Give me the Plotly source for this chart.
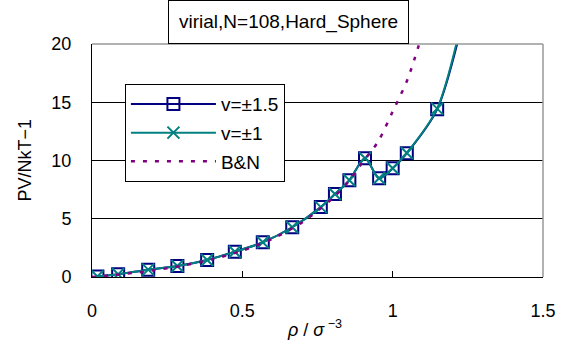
import plotly.graph_objects as go

# data
rho_15 = [0.018, 0.087, 0.187, 0.284, 0.383, 0.475, 0.568, 0.666, 0.761, 0.808,
          0.856, 0.908, 0.955, 1.0, 1.047, 1.148, 1.25]
z_15 = [0.05, 0.23, 0.63, 0.94, 1.46, 2.17, 2.98, 4.27, 6.0, 7.12,
        8.3, 10.19, 8.47, 9.33, 10.62, 14.39, 23.8]
rho_1 = [0.018, 0.087, 0.187, 0.284, 0.383, 0.475, 0.568, 0.666, 0.761, 0.808,
         0.856, 0.908, 0.955, 1.0, 1.047, 1.148, 1.25]
z_1 = [0.05, 0.23, 0.63, 0.94, 1.46, 2.17, 2.98, 4.27, 6.0, 7.12,
       8.3, 10.19, 8.47, 9.33, 10.65, 14.45, 24.3]
rho_bn = [0.0, 0.1, 0.2, 0.3, 0.4, 0.5, 0.6, 0.7, 0.8, 0.85, 0.9, 0.95, 1.0, 1.05, 1.1]
z_bn = [0.0, 0.24, 0.55, 0.97, 1.52, 2.26, 3.28, 4.71, 6.75, 8.1, 9.85, 11.56, 14.2, 17.0, 21.0]

x_ticks = [0, 0.5, 1, 1.5]
x_ticklabels = ["0", "0.5", "1", "1.5"]
y_ticks = [0, 5, 10, 15, 20]
y_ticklabels = ["0", "5", "10", "15", "20"]

FONT = "Liberation Sans, Arial, sans-serif"

fig = go.Figure()
fig.add_trace(go.Scatter(
    x=rho_15, y=z_15, name="v=±1.5", mode="lines+markers",
    line=dict(color="#000080", width=2, shape="spline", smoothing=0.8),
    marker=dict(symbol="square-open", size=12, color="#000080", line=dict(width=2)),
    legendgroup="a",
))
fig.add_trace(go.Scatter(
    x=rho_1, y=z_1, name="v=±1", mode="lines+markers",
    line=dict(color="#008080", width=2, shape="spline", smoothing=0.8),
    marker=dict(symbol="x-thin-open", size=12, color="#008080", line=dict(width=2, color="#008080")),
    legendgroup="b",
))
fig.add_trace(go.Scatter(
    x=rho_bn, y=z_bn, name="B&N", mode="lines",
    line=dict(color="#800080", width=2.5, dash="4px,8px", shape="spline", smoothing=0.8),
    legendgroup="c",
))

fig.update_layout(
    width=569, height=349,
    margin=dict(l=92, r=26, t=44, b=72, autoexpand=False),
    paper_bgcolor="white", plot_bgcolor="white",
    font=dict(family=FONT, size=18, color="black"),
    showlegend=True,
    legend=dict(
        x=0.073, y=0.828, xanchor="left", yanchor="top",
        bgcolor="white", bordercolor="black", borderwidth=1,
        font=dict(size=19, family=FONT), traceorder="grouped", tracegroupgap=1,
        itemwidth=85,
    ),
    xaxis=dict(
        range=[0, 1.5], tickvals=x_ticks, ticktext=x_ticklabels, automargin=False,
        showgrid=False, zeroline=False, showline=True, linecolor="black", linewidth=1,
        ticks="inside", ticklen=6, tickcolor="black", ticklabelstandoff=17,
        tickfont=dict(size=18),
    ),
    yaxis=dict(
        range=[0, 20], tickvals=y_ticks, ticktext=y_ticklabels, automargin=False,
        showgrid=True, gridcolor="black", gridwidth=1, zeroline=False,
        showline=True, linecolor="black", linewidth=1,
        ticks="", ticklabelstandoff=16, tickfont=dict(size=18),
    ),
    shapes=[dict(type="line", xref="paper", yref="paper", x0=0, x1=1, y0=1, y1=1,
                 line=dict(color="#999999", width=1.5), layer="above"),
            dict(type="line", xref="paper", yref="paper", x0=1, x1=1, y0=0, y1=1,
                 line=dict(color="#999999", width=1.5), layer="above")],
    annotations=[
        dict(text="virial,N=108,Hard_Sphere", xref="paper", yref="paper",
             x=(288 - 92) / 451, y=1 + (44 - 22) / 233, xanchor="center", yanchor="middle",
             showarrow=False, font=dict(size=19, family=FONT), bordercolor="black",
             borderwidth=1, borderpad=10, bgcolor="white"),
        dict(text="<i>ρ</i> / <i>σ</i><sup> −3</sup>", xref="paper", yref="paper",
             x=0.494, y=-(328 - 277) / 233, xanchor="center", yanchor="middle",
             showarrow=False, font=dict(size=18, family=FONT)),
        dict(text="PV/NkT−1", xref="paper", yref="paper", textangle=-90,
             x=-(92 - 24) / 451, y=0.5, xanchor="center", yanchor="middle",
             showarrow=False, font=dict(size=18, family=FONT)),
    ],
)

fig.write_html("out.html", config={"displayModeBar": False},
               post_script="document.body.style.margin='0';document.body.style.padding='0';")
